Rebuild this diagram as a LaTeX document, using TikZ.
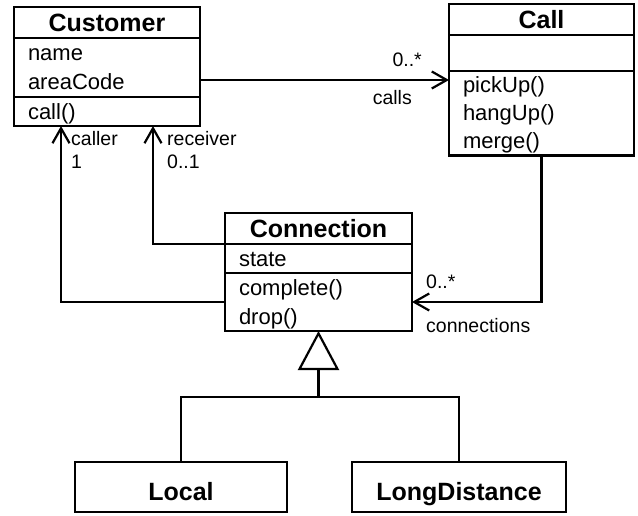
\documentclass[tikz,border=0pt]{standalone}
\usepackage{fontspec}
\setmainfont{Liberation Sans}
\usetikzlibrary{arrows.meta,calc,positioning}
\newcommand{\rowstrut}{\rule[-6.5pt]{0pt}{28.5pt}}
\tikzset{
  uml/.style={draw=black,line width=2.2pt,outer sep=0pt,inner ysep=0pt},
  classhead/.style={uml,minimum height=31pt,text height=19pt,text depth=0pt,
                    font=\bfseries\fontsize{25}{30}\selectfont},
  compart/.style={uml,align=left,inner xsep=14pt,font=\fontsize{22}{28}\selectfont,
                  execute at begin node=\rowstrut,execute at end node=\rowstrut},
  role/.style={inner sep=0pt,align=left,font=\fontsize{19.5}{23}\selectfont},
  assoc/.style={line width=2.2pt,-{Straight Barb[length=15pt,width=17pt]}},
  inherit/.style={line width=2.2pt,-{Triangle[open,length=39pt,width=41pt]}},
  tree/.style={line width=2.2pt}
}

\begin{document}
\begin{tikzpicture}[x=1pt,y=-1pt]
  \useasboundingbox (0,0) rectangle (638,516);
  % classes
  \node[classhead,minimum width=186pt] (cust) at (107,22.5) {Customer};
  \node[compart,text width=158pt,minimum height=59pt,below=0pt of cust] (custattr) {name\\areaCode};
  \node[compart,text width=158pt,minimum height=29pt,below=0pt of custattr] (custmeth) {call()};
  \node[classhead,minimum width=185pt] (call) at (541.5,19.5) {Call};
  \node[compart,text width=157pt,minimum height=36pt,below=0pt of call] (callattr) {};
  \node[compart,text width=157pt,minimum height=84pt,below=0pt of callattr] (callmeth) {pickUp()\\hangUp()\\merge()};
  \node[classhead,minimum width=187pt] (conn) at (318.5,228.5) {Connection};
  \node[compart,text width=159pt,minimum height=29pt,below=0pt of conn] (connattr) {state};
  \node[compart,text width=159pt,minimum height=58pt,below=0pt of connattr] (connmeth) {complete()\\drop()};
  \node[classhead,minimum width=212pt,minimum height=50pt,text height=27pt] (local) at (181,487) {Local};
  \node[classhead,minimum width=214pt,minimum height=50pt,text height=27pt] (longdist) at (459,487) {LongDistance};
  % associations
  \coordinate (calltip) at ([yshift=-12.5pt]custattr.east -| callmeth.west);
  \coordinate (conntip) at (connmeth.east);
  \coordinate (callertip) at ([xshift=-46pt]custmeth.south);
  \coordinate (recvtip) at ([xshift=46pt]custmeth.south);
  \draw[assoc] ([yshift=-12.5pt]custattr.east) -- (calltip);
  \draw[assoc] (callmeth.south) |- (conntip);
  \draw[assoc] (connmeth.west) -| (callertip);
  \draw[assoc] (conn.south west) -| (recvtip);
  \node[role,above left=13pt and 27pt of calltip] (callsmult) {0..*};
  \node[role,below left=10pt and 37pt of calltip] (callsrole) {calls};
  \node[role,above right=13pt and 14pt of conntip] (connmult) {0..*};
  \node[role,below right=16pt and 14pt of conntip] (connrole) {connections};
  \node[role,below right=5pt and 10pt of callertip] (callerrole) {caller\\1};
  \node[role,below right=5pt and 14pt of recvtip] (recvrole) {receiver\\0..1};
  % generalization
  \coordinate (split) at ($(connmeth.south)+(0,66)$);
  \draw[tree] (local.north) |- (split) -| (longdist.north);
  \draw[inherit] (split) -- (connmeth.south);
\end{tikzpicture}
\end{document}
